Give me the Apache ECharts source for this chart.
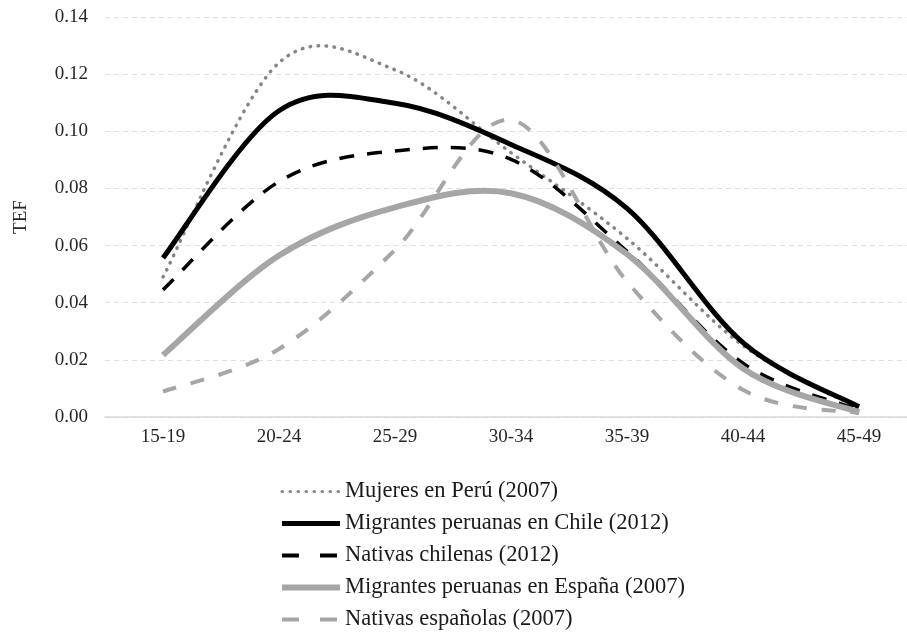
<!DOCTYPE html>
<html>
<head>
<meta charset="utf-8">
<script src="https://cdn.jsdelivr.net/npm/echarts@6/dist/echarts.min.js"></script>
<style>
html,body{margin:0;padding:0;background:#fff;}
#chart{width:907px;height:643px;}
</style>
</head>
<body>
<div id="chart"></div>
<script>
var categories = ['15-19', '20-24', '25-29', '30-34', '35-39', '40-44', '45-49'];
var yTicks = [0, 0.02, 0.04, 0.06, 0.08, 0.10, 0.12, 0.14];

var seriesNames = [
  'Mujeres en Perú (2007)',
  'Migrantes peruanas en Chile (2012)',
  'Nativas chilenas (2012)',
  'Migrantes peruanas en España (2007)',
  'Nativas españolas (2007)'
];
var mujeresPeru      = [0.049, 0.124, 0.1215, 0.0925, 0.0625, 0.025, 0.003];
var migrantesChile   = [0.0557, 0.1072, 0.1098, 0.0954, 0.073, 0.026, 0.0036];
var nativasChilenas  = [0.0445, 0.0824, 0.0931, 0.0902, 0.058, 0.0188, 0.0025];
var migrantesEspana  = [0.0217, 0.0565, 0.0734, 0.0783, 0.057, 0.017, 0.0017];
var nativasEspanolas = [0.0089, 0.0238, 0.0585, 0.104, 0.0474, 0.0095, 0.0013];

var FONT = '"Liberation Serif", "DejaVu Serif", serif';

var styles = [
  { color: '#858585', width: 3.5, dash: [0.5, 7.5], cap: 'round', legendWidth: 3, legendDash: [0.5, 7.5] },
  { color: '#000000', width: 5, dash: null, cap: 'butt', legendWidth: 5, legendDash: 'solid' },
  { color: '#000000', width: 3.5, dash: [15, 13], cap: 'butt', legendWidth: 4, legendDash: [17, 21] },
  { color: '#a6a6a6', width: 6, dash: null, cap: 'butt', legendWidth: 6, legendDash: 'solid' },
  { color: '#a6a6a6', width: 4, dash: [14, 15], cap: 'butt', legendWidth: 4, legendDash: [17, 21] }
];
var allValues = [mujeresPeru, migrantesChile, nativasChilenas, migrantesEspana, nativasEspanolas];

// Smoothed curve (Catmull-Rom style bezier, like spreadsheet "smoothed line")
// through the data points, positioned by the chart's own axes via api.coord.
function curveSeries(k) {
  var values = allValues[k];
  var st = styles[k];
  return {
    type: 'custom',
    name: seriesNames[k],
    data: values.map(function (v, i) { return [i, v]; }),
    encode: { x: 0, y: 1 },
    silent: true,
    renderItem: function (params, api) {
      if (params.dataIndex !== 0) { return null; }
      var n = values.length;
      var p = [];
      for (var i = 0; i < n; i++) { p.push(api.coord([i, values[i]])); }
      var d = 'M' + p[0][0] + ' ' + p[0][1];
      for (var j = 0; j < n - 1; j++) {
        var p0 = p[Math.max(j - 1, 0)], p1 = p[j], p2 = p[j + 1], p3 = p[Math.min(j + 2, n - 1)];
        var c1x = p1[0] + (p2[0] - p0[0]) / 6, c1y = p1[1] + (p2[1] - p0[1]) / 6;
        var c2x = p2[0] - (p3[0] - p1[0]) / 6, c2y = p2[1] - (p3[1] - p1[1]) / 6;
        d += ' C' + c1x + ' ' + c1y + ' ' + c2x + ' ' + c2y + ' ' + p2[0] + ' ' + p2[1];
      }
      return {
        type: 'path',
        shape: { pathData: d },
        style: {
          fill: 'none',
          stroke: st.color,
          lineWidth: st.width,
          lineDash: st.dash,
          lineCap: st.cap,
          lineJoin: 'round'
        }
      };
    }
  };
}

// Legend-only line series (no marks) so the legend shows line-style icons.
function legendSeries(k) {
  var st = styles[k];
  return {
    type: 'line',
    name: seriesNames[k],
    data: [],
    symbol: 'none',
    lineStyle: { color: st.color, width: st.width, type: st.dash || 'solid', cap: st.cap },
    itemStyle: { color: st.color }
  };
}

var series = [];
for (var k = 0; k < 5; k++) { series.push(legendSeries(k)); }
for (var k2 = 0; k2 < 5; k2++) { series.push(curveSeries(k2)); }

var legendData = seriesNames.map(function (nm, k) {
  return {
    name: nm,
    lineStyle: { width: styles[k].legendWidth, type: styles[k].legendDash, cap: styles[k].cap },
    itemStyle: { opacity: 0 }
  };
});

var chart = echarts.init(document.getElementById('chart'), null, { renderer: 'canvas' });
chart.setOption({
  animation: false,
  backgroundColor: '#ffffff',
  grid: { left: 105, right: -10, top: 17, bottom: 226, containLabel: false, outerBoundsMode: 'none' },
  xAxis: {
    type: 'category',
    data: categories,
    boundaryGap: true,
    axisLine: { show: true, lineStyle: { color: '#d9d9d9', width: 1.5 } },
    axisTick: { show: false },
    axisLabel: { color: '#262626', fontFamily: FONT, fontSize: 19, margin: 11 },
    splitLine: { show: false }
  },
  yAxis: {
    type: 'value',
    min: yTicks[0],
    max: yTicks[yTicks.length - 1],
    interval: 0.02,
    name: 'TEF',
    nameLocation: 'middle',
    nameGap: 74,
    nameRotate: 90,
    nameTextStyle: { color: '#262626', fontFamily: FONT, fontSize: 19 },
    axisLine: { show: false },
    axisTick: { show: false },
    axisLabel: {
      color: '#262626', fontFamily: FONT, fontSize: 19, margin: 17,
      formatter: function (v) { return v.toFixed(2); }
    },
    splitLine: { show: true, lineStyle: { color: '#dedede', width: 1, type: [5, 4] } }
  },
  legend: {
    orient: 'vertical',
    left: 274,
    top: 475,
    padding: 5,
    itemWidth: 58,
    itemHeight: 14,
    itemGap: 9,
    selectedMode: false,
    itemStyle: { opacity: 0 },
    textStyle: { color: '#1a1a1a', fontFamily: FONT, fontSize: 22.5, lineHeight: 22 },
    data: legendData
  },
  series: series
});
</script>
</body>
</html>
